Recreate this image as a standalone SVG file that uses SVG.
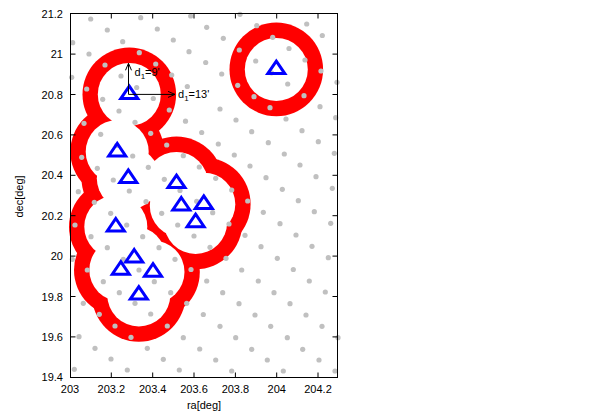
<svg xmlns="http://www.w3.org/2000/svg" xmlns:xlink="http://www.w3.org/1999/xlink" width="593" height="415" viewBox="0 0 593 415">
<style>
.ro{fill:#ff0000}
.wi{fill:#ffffff}
.dt{fill:#c0c0c0}
.tri{fill:none;stroke:#0000ff;stroke-width:3;stroke-linejoin:miter}
.ax{fill:none;stroke:#000;stroke-width:1}
.ar{fill:none;stroke:#000;stroke-width:1}
text{font-family:"Liberation Sans",Arial,sans-serif;font-size:11px;fill:#000}
.ty{text-anchor:end}
.tx{text-anchor:middle}
</style>
<defs>
<circle id="o" r="46.8"/>
<circle id="i" r="31.5"/>
<circle id="p" r="2.6"/>
<path id="t" d="M0,-8.3 L8.5,4.2 L-8.5,4.2 Z"/>
<marker id="ah" viewBox="-8 -4 9 8" refX="0" refY="0" markerWidth="9" markerHeight="8" markerUnits="userSpaceOnUse" orient="auto">
<path d="M-7,-3 L0,0 L-7,3" fill="none" stroke="#000" stroke-width="1"/>
</marker>
</defs>
<rect width="593" height="415" fill="#fff"/>
<g id="rings-outer" class="ro">
<use href="#o" x="129.3" y="94.4"/>
<use href="#o" x="276.3" y="69.4"/>
<use href="#o" x="117.2" y="151.7"/>
<use href="#o" x="128.3" y="178.2"/>
<use href="#o" x="176.5" y="183.4"/>
<use href="#o" x="181.3" y="205.8"/>
<use href="#o" x="203.8" y="204.2"/>
<use href="#o" x="195.6" y="222.5"/>
<use href="#o" x="115.8" y="226.8"/>
<use href="#o" x="134.2" y="257.8"/>
<use href="#o" x="120.8" y="270"/>
<use href="#o" x="153" y="272"/>
<use href="#o" x="138.8" y="294.9"/>
</g>
<g id="rings-inner" class="wi">
<use href="#i" x="129.3" y="94.4"/>
<use href="#i" x="276.3" y="69.4"/>
<use href="#i" x="117.2" y="151.7"/>
<use href="#i" x="128.3" y="178.2"/>
<use href="#i" x="176.5" y="183.4"/>
<use href="#i" x="181.3" y="205.8"/>
<use href="#i" x="203.8" y="204.2"/>
<use href="#i" x="195.6" y="222.5"/>
<use href="#i" x="115.8" y="226.8"/>
<use href="#i" x="134.2" y="257.8"/>
<use href="#i" x="120.8" y="270"/>
<use href="#i" x="153" y="272"/>
<use href="#i" x="138.8" y="294.9"/>
</g>
<g id="dots" class="dt">
<use href="#p" x="90.7" y="19"/><use href="#p" x="140.7" y="17.7"/><use href="#p" x="190.7" y="16"/><use href="#p" x="240" y="14.3"/>
<use href="#p" x="107.3" y="30"/><use href="#p" x="157.3" y="29"/><use href="#p" x="206.7" y="27.3"/><use href="#p" x="256.7" y="25.7"/><use href="#p" x="306.7" y="24"/>
<use href="#p" x="72.7" y="42.7"/><use href="#p" x="122.7" y="41.7"/><use href="#p" x="173.3" y="40"/><use href="#p" x="223.3" y="38.3"/><use href="#p" x="272.7" y="37.3"/><use href="#p" x="322.3" y="35.5"/>
<use href="#p" x="89" y="54"/><use href="#p" x="139.3" y="52.7"/><use href="#p" x="189" y="51.7"/><use href="#p" x="239.3" y="50"/><use href="#p" x="289" y="48.5"/>
<use href="#p" x="105" y="65"/><use href="#p" x="155.7" y="64"/><use href="#p" x="205.7" y="62.5"/><use href="#p" x="255.7" y="61"/><use href="#p" x="305" y="60"/>
<use href="#p" x="71.7" y="77.3"/><use href="#p" x="121" y="76"/><use href="#p" x="171.7" y="75"/><use href="#p" x="221.7" y="74"/><use href="#p" x="271.5" y="72.8"/><use href="#p" x="321" y="71"/>
<use href="#p" x="86.7" y="89"/><use href="#p" x="136.7" y="87.5"/><use href="#p" x="187.3" y="86.5"/><use href="#p" x="237.7" y="85.3"/><use href="#p" x="287.7" y="84"/><use href="#p" x="337" y="82.3"/>
<use href="#p" x="102.7" y="99.3"/><use href="#p" x="153.3" y="98.5"/><use href="#p" x="254" y="96.7"/><use href="#p" x="304" y="95.7"/>
<use href="#p" x="119" y="111"/><use href="#p" x="169.3" y="110"/><use href="#p" x="220" y="109"/><use href="#p" x="270" y="107.7"/><use href="#p" x="320" y="106.7"/>
<use href="#p" x="84" y="123.3"/><use href="#p" x="135" y="122.3"/><use href="#p" x="185.5" y="121.2"/><use href="#p" x="236" y="120"/><use href="#p" x="286" y="119"/><use href="#p" x="335.7" y="117.7"/>
<use href="#p" x="100.7" y="134.3"/><use href="#p" x="150.7" y="133.3"/><use href="#p" x="201.7" y="132.5"/><use href="#p" x="251.7" y="131.7"/><use href="#p" x="302" y="130.7"/>
<use href="#p" x="116.5" y="145.5"/><use href="#p" x="166.7" y="145"/><use href="#p" x="218.3" y="144"/><use href="#p" x="268.3" y="142.7"/><use href="#p" x="318.3" y="141.7"/>
<use href="#p" x="81.7" y="157.3"/><use href="#p" x="132.7" y="156"/><use href="#p" x="183.3" y="155.7"/><use href="#p" x="234.3" y="155"/><use href="#p" x="284.3" y="154"/><use href="#p" x="334.3" y="153.3"/>
<use href="#p" x="97.3" y="168.3"/><use href="#p" x="148.3" y="167.3"/><use href="#p" x="199.3" y="167"/><use href="#p" x="250" y="166"/><use href="#p" x="300" y="165"/>
<use href="#p" x="113.3" y="180"/><use href="#p" x="164.3" y="179.3"/><use href="#p" x="215.7" y="178.3"/><use href="#p" x="266" y="177.7"/><use href="#p" x="316" y="176.7"/>
<use href="#p" x="78.3" y="191.7"/><use href="#p" x="129.3" y="191"/><use href="#p" x="180" y="190.5"/><use href="#p" x="231.7" y="190"/><use href="#p" x="282.3" y="189.3"/><use href="#p" x="332.3" y="188.3"/>
<use href="#p" x="94.3" y="202.3"/><use href="#p" x="146" y="201.7"/><use href="#p" x="196.7" y="201.3"/><use href="#p" x="247.7" y="201"/><use href="#p" x="298.3" y="200.7"/>
<use href="#p" x="110.7" y="213.3"/><use href="#p" x="161.7" y="213.3"/><use href="#p" x="212.7" y="212.7"/><use href="#p" x="263.3" y="212.3"/><use href="#p" x="314.3" y="211.7"/>
<use href="#p" x="75" y="225"/><use href="#p" x="126.7" y="225"/><use href="#p" x="177.7" y="225"/><use href="#p" x="229" y="224"/><use href="#p" x="280" y="223.7"/><use href="#p" x="330.7" y="223.3"/>
<use href="#p" x="91" y="236.7"/><use href="#p" x="142.7" y="236.7"/><use href="#p" x="194" y="236"/><use href="#p" x="245" y="235.3"/><use href="#p" x="296" y="235"/>
<use href="#p" x="107.3" y="247.7"/><use href="#p" x="159" y="247.7"/><use href="#p" x="210" y="247.3"/><use href="#p" x="261" y="246.7"/><use href="#p" x="312" y="246.3"/>
<use href="#p" x="72.3" y="259.3"/><use href="#p" x="123.3" y="259.3"/><use href="#p" x="175" y="259.3"/><use href="#p" x="226" y="258.3"/><use href="#p" x="277.3" y="258.3"/><use href="#p" x="328.3" y="257.7"/>
<use href="#p" x="87.3" y="270"/><use href="#p" x="139" y="270"/><use href="#p" x="191" y="269.5"/><use href="#p" x="241.7" y="270"/><use href="#p" x="293.3" y="269.5"/>
<use href="#p" x="103.3" y="281.7"/><use href="#p" x="154.3" y="281.7"/><use href="#p" x="206.7" y="281"/><use href="#p" x="258.3" y="281"/><use href="#p" x="309.3" y="281"/>
<use href="#p" x="119.3" y="292.7"/><use href="#p" x="170.7" y="292.7"/><use href="#p" x="222.7" y="292.7"/><use href="#p" x="274" y="292.7"/><use href="#p" x="325.3" y="292"/>
<use href="#p" x="83.3" y="303.3"/><use href="#p" x="135" y="303.3"/><use href="#p" x="186.7" y="303.3"/><use href="#p" x="239" y="303.7"/><use href="#p" x="290" y="303.7"/>
<use href="#p" x="99.3" y="314.3"/><use href="#p" x="150.7" y="314"/><use href="#p" x="203.3" y="314.5"/><use href="#p" x="255" y="315"/><use href="#p" x="306" y="315"/>
<use href="#p" x="115" y="326"/><use href="#p" x="167.3" y="326"/><use href="#p" x="220" y="326.3"/><use href="#p" x="270.7" y="326.3"/><use href="#p" x="322" y="326.3"/>
<use href="#p" x="79" y="336.7"/><use href="#p" x="131" y="337.3"/><use href="#p" x="183.3" y="337.7"/><use href="#p" x="235.7" y="337.7"/><use href="#p" x="287.3" y="337.7"/><use href="#p" x="338" y="337.7"/>
<use href="#p" x="95" y="348.3"/><use href="#p" x="147.3" y="348.3"/><use href="#p" x="199.7" y="349"/><use href="#p" x="251.7" y="349.3"/><use href="#p" x="302.7" y="349.3"/>
<use href="#p" x="111" y="359"/><use href="#p" x="163.3" y="359.3"/><use href="#p" x="215.7" y="360"/><use href="#p" x="267.3" y="360"/><use href="#p" x="319" y="360"/>
<use href="#p" x="74.3" y="369.3"/><use href="#p" x="127.3" y="370"/><use href="#p" x="179.3" y="370"/><use href="#p" x="231.7" y="371"/><use href="#p" x="283.3" y="371"/><use href="#p" x="335" y="371"/>
</g>
<g id="sources" class="tri">
<g id="s1"><use href="#t" x="129.3" y="94.4"/></g>
<g id="s2"><use href="#t" x="276.3" y="69.4"/></g>
<g id="s3"><use href="#t" x="117.2" y="151.7"/></g>
<g id="s4"><use href="#t" x="128.3" y="178.2"/></g>
<g id="s5"><use href="#t" x="176.5" y="183.4"/></g>
<g id="s6"><use href="#t" x="181.3" y="205.8"/></g>
<g id="s7"><use href="#t" x="203.8" y="204.2"/></g>
<g id="s8"><use href="#t" x="195.6" y="222.5"/></g>
<g id="s9"><use href="#t" x="115.8" y="226.8"/></g>
<g id="s10"><use href="#t" x="134.2" y="257.8"/></g>
<g id="s11"><use href="#t" x="120.8" y="270"/></g>
<g id="s12"><use href="#t" x="153" y="272"/></g>
<g id="s13"><use href="#t" x="138.8" y="294.9"/></g>
</g>
<g id="connectors" class="ar">
<path d="M128.5,94.4 V63.3" marker-end="url(#ah)"/>
<path d="M128.5,94.4 H175" marker-end="url(#ah)"/>
</g>
<g id="annotations">
<text x="134.5" y="76">d<tspan font-size="8" dy="2.5">1</tspan><tspan dy="-2.5">=9'</tspan></text>
<text x="178" y="98">d<tspan font-size="8" dy="2.5">1</tspan><tspan dy="-2.5">=13'</tspan></text>
</g>
<g id="axes">
<rect class="ax" x="70.5" y="13.5" width="267" height="364"/>
<path class="ax" d="M111.3,377.5v-5M152.7,377.5v-5M194,377.5v-5M235.4,377.5v-5M276.7,377.5v-5M318,377.5v-5
M111.3,13.5v5M152.7,13.5v5M194,13.5v5M235.4,13.5v5M276.7,13.5v5M318,13.5v5
M70.5,336.9h5M70.5,296.5h5M70.5,256.1h5M70.5,215.7h5M70.5,175.3h5M70.5,134.9h5M70.5,94.5h5M70.5,54.1h5
M337.5,336.9h-5M337.5,296.5h-5M337.5,256.1h-5M337.5,215.7h-5M337.5,175.3h-5M337.5,134.9h-5M337.5,94.5h-5M337.5,54.1h-5"/>
<text class="ty" x="63" y="381.3">19.4</text>
<text class="ty" x="63" y="340.9">19.6</text>
<text class="ty" x="63" y="300.5">19.8</text>
<text class="ty" x="63" y="260.1">20</text>
<text class="ty" x="63" y="219.7">20.2</text>
<text class="ty" x="63" y="179.3">20.4</text>
<text class="ty" x="63" y="138.9">20.6</text>
<text class="ty" x="63" y="98.5">20.8</text>
<text class="ty" x="63" y="58.1">21</text>
<text class="ty" x="63" y="17.7">21.2</text>
<text class="tx" x="70" y="393">203</text>
<text class="tx" x="111.3" y="393">203.2</text>
<text class="tx" x="152.7" y="393">203.4</text>
<text class="tx" x="194" y="393">203.6</text>
<text class="tx" x="235.4" y="393">203.8</text>
<text class="tx" x="276.7" y="393">204</text>
<text class="tx" x="318" y="393">204.2</text>
<text class="tx" x="204" y="409">ra[deg]</text>
<text class="tx" transform="translate(23,196.5) rotate(-90)">dec[deg]</text>
</g>
</svg>
